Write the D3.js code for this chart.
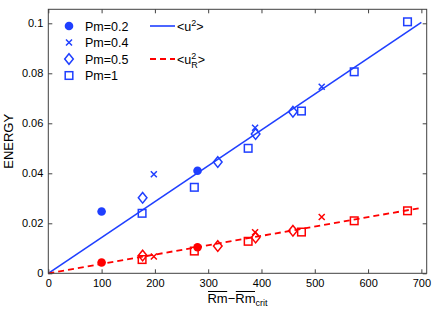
<!DOCTYPE html>
<html>
<head>
<meta charset="utf-8">
<script src="https://cdn.jsdelivr.net/npm/d3@7"></script>
<style>
  body { margin: 0; background: #fff; }
  svg text { font-family: "Liberation Sans", Arial, sans-serif; fill: #000; }
</style>
</head>
<body>
<svg id="chart" width="436" height="311"></svg>
<script>
// data
const pm02X = [100, 280]
const pm02U = [0.0247, 0.0410]
const pm02R = [0.0043, 0.0104]

const pm04X = [198, 388, 513]
const pm04U = [0.0396, 0.0582, 0.0746]
const pm04R = [0.0067, 0.0164, 0.0225]

const pm05X = [177, 318, 389, 459]
const pm05U = [0.0302, 0.0445, 0.0557, 0.0646]
const pm05R = [0.0071, 0.0109, 0.0143, 0.0170]

const pm1X = [176, 274, 375, 475, 574, 674]
const pm1U = [0.0240, 0.0344, 0.0500, 0.0649, 0.0806, 0.1006]
const pm1R = [0.0055, 0.0089, 0.0128, 0.0165, 0.0210, 0.0250]

const fitX = [0, 700]
const fitU = [0, 0.1004]
const fitR = [0, 0.0262]

const xTicks = [0, 100, 200, 300, 400, 500, 600, 700]
const yTicks = [0, 0.02, 0.04, 0.06, 0.08, 0.1]

const BLUE = '#1f3fff', RED = '#ff0000', AXIS = '#404040'

const svg = d3.select('#chart')
const x = d3.scaleLinear().domain([0, 710]).range([48.3, 426.7])
const y = d3.scaleLinear().domain([0, 0.1056]).range([273.3, 9.3])
const [x0, x1] = x.range(), [y0, y1] = y.range()

// fit lines
const line = d3.line().x(d => x(d[0])).y(d => y(d[1]))
svg.append('path').datum(d3.zip(fitX, fitU))
    .attr('d', line).attr('fill', 'none')
    .attr('stroke', BLUE).attr('stroke-width', 1.6)
svg.append('path').datum(d3.zip(fitX, fitR))
    .attr('d', line).attr('fill', 'none')
    .attr('stroke', RED).attr('stroke-width', 1.8)
    .attr('stroke-dasharray', '6,4')

// marker shapes
const shapes = {
    circle: g => g.append('circle').attr('r', 4.3).attr('stroke', 'none'),
    cross: g => g.append('path').attr('d', 'M-3,-3L3,3M-3,3L3,-3').attr('fill', 'none').attr('stroke-width', 1.5),
    diamond: g => g.append('path').attr('d', 'M0,-5.3L4.3,0L0,5.3L-4.3,0Z').attr('fill', 'none').attr('stroke-width', 1.5),
    square: g => g.append('rect').attr('x', -3.8).attr('y', -3.8).attr('width', 7.6).attr('height', 7.6).attr('fill', 'none').attr('stroke-width', 1.5)
}

function drawMarkers(xs, ys, shape, color) {
    const g = svg.append('g')
        .selectAll('g')
        .data(d3.zip(xs, ys))
        .enter()
            .append('g')
            .attr('transform', d => `translate(${x(d[0])},${y(d[1])})`)
            .attr('fill', color).attr('stroke', color)
    shapes[shape](g)
}

drawMarkers(pm02X, pm02U, 'circle', BLUE)
drawMarkers(pm02X, pm02R, 'circle', RED)
drawMarkers(pm04X, pm04U, 'cross', BLUE)
drawMarkers(pm04X, pm04R, 'cross', RED)
drawMarkers(pm05X, pm05U, 'diamond', BLUE)
drawMarkers(pm05X, pm05R, 'diamond', RED)
drawMarkers(pm1X, pm1U, 'square', BLUE)
drawMarkers(pm1X, pm1R, 'square', RED)

// axes box with inward ticks on all sides
const tickLen = 4
svg.append('rect')
    .attr('x', x0).attr('y', y1).attr('width', x1 - x0).attr('height', y0 - y1)
    .attr('fill', 'none').attr('stroke', AXIS).attr('stroke-width', 1)

const axBottom = svg.append('g').attr('transform', `translate(0,${y0})`)
    .call(d3.axisBottom(x).tickValues(xTicks).tickSizeInner(-tickLen).tickSizeOuter(0).tickPadding(6))
const axTop = svg.append('g').attr('transform', `translate(0,${y1})`)
    .call(d3.axisTop(x).tickValues(xTicks).tickSizeInner(-tickLen).tickSizeOuter(0).tickFormat(''))
const axLeft = svg.append('g').attr('transform', `translate(${x0},0)`)
    .call(d3.axisLeft(y).tickValues(yTicks).tickSizeInner(-tickLen).tickSizeOuter(0).tickPadding(5)
        .tickFormat(d => d === 0 ? '0' : d3.format('~g')(d)))
const axRight = svg.append('g').attr('transform', `translate(${x1},0)`)
    .call(d3.axisRight(y).tickValues(yTicks).tickSizeInner(-tickLen).tickSizeOuter(0).tickFormat(''))

;[axBottom, axTop, axLeft, axRight].forEach(a => {
    a.select('.domain').remove()
    a.selectAll('line').attr('stroke', AXIS)
    a.selectAll('text').attr('font-size', 11).attr('font-family', '"Liberation Sans", Arial, sans-serif').attr('fill', '#000')
})

// axis labels
svg.append('text')
    .attr('transform', `translate(13,${(y0 + y1) / 2}) rotate(-90)`)
    .attr('text-anchor', 'middle')
    .attr('font-size', 13)
    .text('ENERGY')

const xl = svg.append('text')
    .attr('x', (x0 + x1) / 2).attr('y', 303)
    .attr('text-anchor', 'middle')
    .attr('font-size', 13)
const rm1 = xl.append('tspan').text('Rm')
xl.append('tspan').text('\u2212')
const rm2 = xl.append('tspan').text('Rm')
xl.append('tspan').attr('font-size', 9).attr('dy', 3).text('crit')
;[rm1, rm2].forEach(t => {
    const b = t.node().getBBox()
    svg.append('line')
        .attr('x1', b.x + 0.5).attr('x2', b.x + b.width - 0.5)
        .attr('y1', b.y + 0.5).attr('y2', b.y + 0.5)
        .attr('stroke', '#000').attr('stroke-width', 1)
})

// legend
const legendItems = [
    {label: 'Pm=0.2', shape: 'circle'},
    {label: 'Pm=0.4', shape: 'cross'},
    {label: 'Pm=0.5', shape: 'diamond'},
    {label: 'Pm=1', shape: 'square'}
]
const rowY = i => 26 + i * 16.5
const legend = svg.append('g')
legendItems.forEach((d, i) => {
    const g = legend.append('g')
        .attr('transform', `translate(69,${rowY(i)})`)
        .attr('fill', BLUE).attr('stroke', BLUE)
    shapes[d.shape](g)
    legend.append('text')
        .attr('x', 85).attr('y', rowY(i)).attr('dy', '0.36em')
        .attr('font-size', 12.5)
        .text(d.label)
})

legend.append('line')
    .attr('x1', 150).attr('x2', 175).attr('y1', rowY(0)).attr('y2', rowY(0))
    .attr('stroke', BLUE).attr('stroke-width', 1.6)
legend.append('line')
    .attr('x1', 150).attr('x2', 175).attr('y1', rowY(2)).attr('y2', rowY(2))
    .attr('stroke', RED).attr('stroke-width', 1.8).attr('stroke-dasharray', '6,4')

const l1 = legend.append('text')
    .attr('x', 177).attr('y', rowY(0)).attr('dy', '0.36em').attr('font-size', 12.5)
l1.append('tspan').text('<u')
l1.append('tspan').attr('font-size', 9).attr('dy', -5).text('2')
l1.append('tspan').attr('dy', 5).text('>')

const l2 = legend.append('text')
    .attr('x', 177).attr('y', rowY(2)).attr('dy', '0.36em').attr('font-size', 12.5)
l2.append('tspan').text('<u')
const sup = l2.append('tspan').attr('font-size', 9).attr('dy', -5).text('2')
const subR = l2.append('tspan').attr('font-size', 9).attr('dy', 9).text('R')
l2.append('tspan').attr('dy', -4).text('>')
// stack the subscript under the superscript
const supW = sup.node().getComputedTextLength()
subR.attr('dx', -supW)
</script>
</body>
</html>
